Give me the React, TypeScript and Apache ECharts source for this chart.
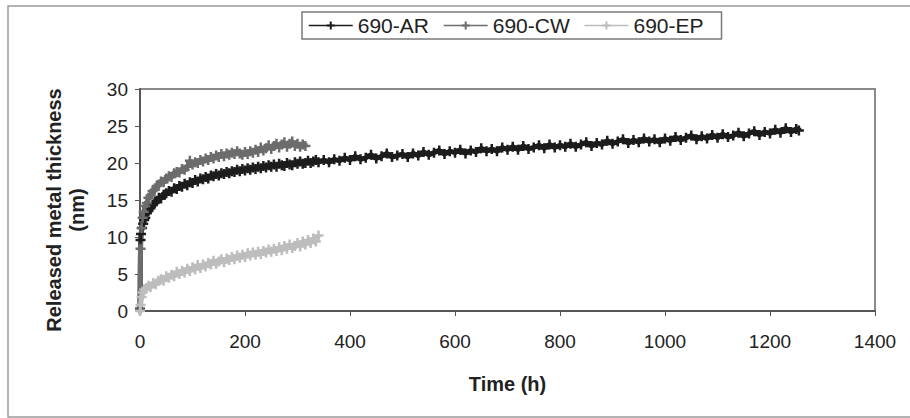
import React, { useEffect, useRef } from "react";
import * as echarts from "echarts";

const seriesNames = ["690-AR", "690-CW", "690-EP"];
const xTicks = [0, 200, 400, 600, 800, 1000, 1200, 1400];
const yTicks = [0, 5, 10, 15, 20, 25, 30];

const ar690: [number, number][] = [
  [0, 0.3], [1, 9.6], [2, 10.4], [4, 11.2], [6, 11.8], [8, 12.3], [10, 12.6], [13, 13.2], [16, 13.5],
  [20, 13.9], [24, 14.3], [28, 14.6], [32, 14.9], [36, 15.3], [40, 15.2], [45, 15.7], [50, 15.9],
  [55, 16.2], [60, 16.1], [65, 16.6], [70, 16.5], [75, 16.9], [80, 16.8], [85, 17.2], [90, 17.0],
  [95, 17.4], [100, 17.3], [105, 17.7], [110, 17.5], [115, 17.9], [120, 17.8], [125, 18.1], [130, 17.9],
  [135, 18.3], [140, 18.2], [145, 18.5], [150, 18.3], [155, 18.6], [160, 18.5], [165, 18.8], [170, 18.6],
  [175, 18.9], [180, 18.8], [185, 19.1], [190, 18.9], [195, 19.2], [200, 19.0], [205, 19.3], [210, 19.1],
  [215, 19.4], [220, 19.2], [225, 19.5], [230, 19.3], [235, 19.6], [240, 19.4], [245, 19.7], [250, 19.5],
  [255, 19.8], [260, 19.5], [265, 19.9], [270, 19.7], [275, 19.6], [280, 20.0], [285, 19.8], [290, 19.7],
  [295, 20.1], [300, 19.9], [305, 20.2], [310, 19.9], [315, 20.0], [320, 20.3], [325, 20.0], [330, 20.2],
  [335, 20.4], [340, 20.1], [350, 20.4], [360, 20.1], [370, 20.5], [380, 20.3], [390, 20.7], [400, 20.4],
  [410, 20.9], [420, 20.5], [430, 20.7], [440, 21.1], [450, 20.6], [460, 20.9], [470, 21.3], [480, 20.8],
  [490, 21.0], [500, 21.2], [510, 20.8], [520, 21.3], [530, 21.0], [540, 21.5], [550, 21.1], [560, 21.4],
  [570, 21.7], [580, 21.2], [590, 21.6], [600, 21.4], [610, 21.8], [620, 21.3], [630, 21.7], [640, 21.5],
  [650, 22.0], [660, 21.6], [670, 21.9], [680, 21.6], [690, 22.1], [700, 21.8], [710, 22.2], [720, 21.8],
  [730, 22.3], [740, 21.9], [750, 22.1], [760, 22.4], [770, 22.0], [780, 22.5], [790, 22.1], [800, 22.4],
  [810, 22.2], [820, 22.6], [830, 22.2], [840, 22.5], [850, 22.8], [860, 22.3], [870, 22.7], [880, 22.5],
  [890, 23.0], [900, 22.6], [910, 22.9], [920, 23.2], [930, 22.7], [940, 23.1], [950, 22.8], [960, 23.3],
  [970, 22.9], [980, 23.2], [990, 22.8], [1000, 23.3], [1010, 23.0], [1020, 23.5], [1030, 23.1], [1040, 23.4],
  [1050, 23.7], [1060, 23.2], [1070, 23.6], [1080, 23.3], [1090, 23.8], [1100, 23.4], [1110, 23.9], [1120, 23.5],
  [1130, 23.7], [1140, 24.1], [1150, 23.6], [1160, 24.0], [1170, 24.3], [1180, 23.8], [1190, 24.2], [1200, 24.0],
  [1210, 24.5], [1220, 24.1], [1230, 24.7], [1240, 24.2], [1250, 24.6], [1255, 24.4],
];

const cw690: [number, number][] = [
  [0, 0.2], [1, 8.4], [3, 11.2], [5, 12.6], [7, 13.4], [10, 14.2], [13, 14.6], [16, 15.3], [20, 15.6],
  [24, 16.2], [28, 16.4], [32, 16.9], [36, 17.1], [40, 17.5], [45, 17.4], [50, 17.9], [55, 18.2],
  [60, 18.1], [65, 18.6], [70, 18.8], [75, 18.7], [80, 19.2], [85, 19.1], [90, 19.5], [95, 20.3],
  [100, 19.8], [105, 20.1], [110, 20.0], [115, 20.4], [120, 20.2], [125, 20.6], [130, 20.4], [135, 20.8],
  [140, 20.6], [145, 21.0], [150, 20.8], [155, 21.2], [160, 20.9], [165, 21.3], [170, 21.1], [175, 21.4],
  [180, 21.2], [185, 21.6], [190, 21.3], [195, 21.1], [200, 21.5], [205, 21.2], [210, 21.6], [215, 21.4],
  [220, 21.8], [225, 21.5], [230, 22.1], [235, 21.7], [240, 22.0], [245, 22.4], [250, 21.9], [255, 22.3],
  [260, 22.6], [265, 22.1], [270, 22.5], [275, 22.8], [280, 22.2], [285, 22.6], [290, 22.9], [295, 22.3],
  [300, 22.6], [305, 22.2], [310, 22.5], [315, 22.3],
];

const ep690: [number, number][] = [
  [0, 0.0], [1, 0.8], [3, 1.9], [5, 2.5], [8, 2.9], [12, 3.1], [16, 3.4], [20, 3.2], [25, 3.8],
  [30, 3.6], [35, 4.1], [40, 4.3], [45, 4.1], [50, 4.7], [55, 4.5], [60, 4.9], [65, 4.7], [70, 5.3],
  [75, 5.0], [80, 5.4], [85, 5.2], [90, 5.7], [95, 5.4], [100, 5.9], [105, 5.6], [110, 6.2], [115, 5.8],
  [120, 6.3], [125, 6.0], [130, 6.5], [135, 6.3], [140, 6.8], [145, 6.4], [150, 6.7], [155, 7.0],
  [160, 6.6], [165, 7.1], [170, 6.9], [175, 7.3], [180, 7.0], [185, 7.5], [190, 7.2], [195, 7.6],
  [200, 7.3], [205, 7.8], [210, 7.5], [215, 7.9], [220, 7.6], [225, 8.0], [230, 7.7], [235, 8.1],
  [240, 7.9], [245, 8.3], [250, 8.0], [255, 8.4], [260, 8.1], [265, 8.6], [270, 8.2], [275, 8.8],
  [280, 8.4], [285, 9.0], [290, 8.5], [295, 8.8], [300, 9.2], [305, 8.7], [310, 9.4], [315, 9.0],
  [320, 9.6], [325, 9.2], [330, 9.8], [335, 9.4], [340, 10.2],
];

const seriesData = [ar690, cw690, ep690];
const seriesColors = ["#1c1c1c", "#6c6c6c", "#bdbdbd"];

const PLUS = "path://M3,0H5V3H8V5H5V8H3V5H0V3H3Z";
const FONT = "'Liberation Sans', Arial, sans-serif";

export default function App() {
  const ref = useRef<HTMLDivElement>(null);
  useEffect(() => {
    if (!ref.current) return;
    const chart = echarts.init(ref.current, undefined, { renderer: "svg" });
    chart.setOption({
      animation: false,
      backgroundColor: "#ffffff",
      textStyle: { fontFamily: FONT },
      graphic: [
        {
          type: "rect",
          shape: { x: 8, y: 6, width: 920, height: 411 },
          style: { fill: "none", stroke: "#9a9a9a", lineWidth: 1.5 },
          silent: true,
        },
        {
          type: "text",
          x: 65,
          y: 210,
          rotation: Math.PI / 2,
          style: {
            text: "Released metal thickness\n(nm)",
            fontSize: 20,
            fontWeight: "bold",
            fontFamily: FONT,
            fill: "#222",
            align: "center",
            verticalAlign: "middle",
            lineHeight: 23,
          },
        },
      ],
      legend: {
        data: seriesNames,
        left: 302,
        top: 12,
        padding: [3, 18, 3, 6],
        borderColor: "#7a7a7a",
        borderWidth: 1.5,
        itemWidth: 44,
        itemHeight: 10,
        itemGap: 14,
        lineStyle: { width: 1.5 },
        textStyle: { fontSize: 21, color: "#222", fontFamily: FONT },
      },
      grid: {
        left: 140,
        right: 35,
        top: 89,
        bottom: 107,
        show: true,
        borderColor: "#8a8a8a",
        borderWidth: 2,
        backgroundColor: "#ffffff",
      },
      xAxis: {
        type: "value",
        min: xTicks[0],
        max: xTicks[xTicks.length - 1],
        interval: 200,
        name: "Time (h)",
        nameLocation: "middle",
        nameGap: 63,
        nameTextStyle: { fontSize: 20, fontWeight: "bold", color: "#222", fontFamily: FONT },
        axisLine: { show: true, onZero: false, lineStyle: { color: "#555", width: 2 } },
        axisTick: { show: true, length: 5, lineStyle: { color: "#555", width: 1 } },
        axisLabel: { fontSize: 19, color: "#222", margin: 21, fontFamily: FONT, formatter: (v: number) => String(v) },
        splitLine: { show: false },
      },
      yAxis: {
        type: "value",
        min: yTicks[0],
        max: yTicks[yTicks.length - 1],
        interval: 5,
        axisLine: { show: true, onZero: false, lineStyle: { color: "#555", width: 2 } },
        axisTick: { show: true, length: 5, lineStyle: { color: "#555", width: 1 } },
        axisLabel: { fontSize: 19, color: "#222", margin: 12, fontFamily: FONT, formatter: (v: number) => String(v) },
        splitLine: { show: false },
      },
      series: seriesNames.map((name, i) => ({
        name,
        type: "line",
        data: seriesData[i],
        color: seriesColors[i],
        symbol: PLUS,
        symbolSize: 10,
        showAllSymbol: true,
        lineStyle: { width: 5, color: seriesColors[i] },
        itemStyle: { color: seriesColors[i] },
      })),
    });
    return () => chart.dispose();
  }, []);
  return <div ref={ref} style={{ width: 910, height: 418, position: "absolute", left: 0, top: 0 }} />;
}
